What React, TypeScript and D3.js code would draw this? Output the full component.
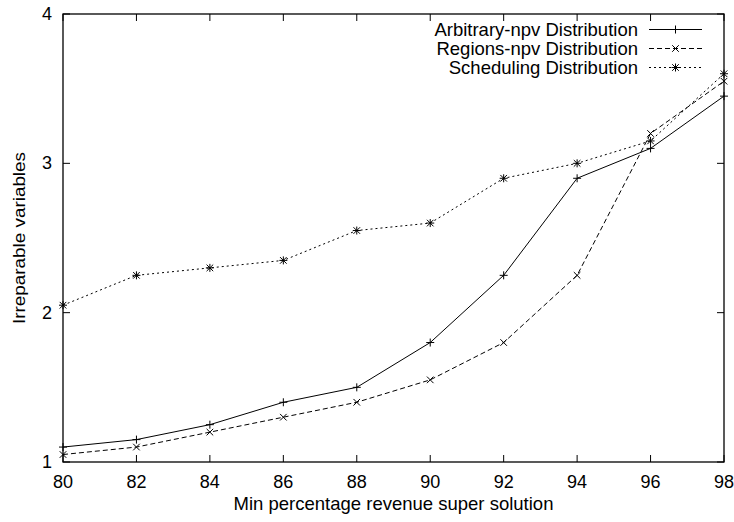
import React, { useEffect, useRef } from "react";
import * as d3 from "d3";

const xValues = [80, 82, 84, 86, 88, 90, 92, 94, 96, 98];
const arbitrary = [1.1, 1.15, 1.25, 1.4, 1.5, 1.8, 2.25, 2.9, 3.1, 3.45];
const regions = [1.05, 1.1, 1.2, 1.3, 1.4, 1.55, 1.8, 2.25, 3.2, 3.55];
const scheduling = [2.05, 2.25, 2.3, 2.35, 2.55, 2.6, 2.9, 3.0, 3.15, 3.6];
const seriesNames = [
  "Arbitrary-npv Distribution",
  "Regions-npv Distribution",
  "Scheduling Distribution",
];
const xTicks = [80, 82, 84, 86, 88, 90, 92, 94, 96, 98];
const yTicks = [1, 2, 3, 4];

const width = 734;
const height = 522;
const margin = { left: 63, right: 10, top: 14, bottom: 60 };

function marker(g: any, kind: string, x: number, y: number) {
  const s = 4;
  if (kind === "plus" || kind === "star") {
    g.append("line").attr("x1", x - s).attr("x2", x + s).attr("y1", y).attr("y2", y);
    g.append("line").attr("x1", x).attr("x2", x).attr("y1", y - s).attr("y2", y + s);
  }
  if (kind === "cross" || kind === "star") {
    const c = 3.3;
    g.append("line").attr("x1", x - c).attr("x2", x + c).attr("y1", y - c).attr("y2", y + c);
    g.append("line").attr("x1", x - c).attr("x2", x + c).attr("y1", y + c).attr("y2", y - c);
  }
}

export default function App() {
  const ref = useRef<SVGSVGElement>(null);

  useEffect(() => {
    const svg = d3.select(ref.current);
    svg.selectAll("*").remove();

    const x = d3
      .scaleLinear()
      .domain([80, 98])
      .range([margin.left, width - margin.right]);
    const y = d3
      .scaleLinear()
      .domain([1, 4])
      .range([height - margin.bottom, margin.top]);

    const font = "'Liberation Sans', Arial, sans-serif";
    const tickLen = 7;

    // gnuplot style: ticks on all four sides, pointing in
    const axes = svg.append("g").attr("stroke", "#000").attr("stroke-width", 1);
    xTicks.forEach(t => {
      axes.append("line").attr("x1", x(t)).attr("x2", x(t))
        .attr("y1", y(1)).attr("y2", y(1) - tickLen);
      axes.append("line").attr("x1", x(t)).attr("x2", x(t))
        .attr("y1", y(4)).attr("y2", y(4) + tickLen);
    });
    yTicks.forEach(t => {
      axes.append("line").attr("x1", x(80)).attr("x2", x(80) + tickLen)
        .attr("y1", y(t)).attr("y2", y(t));
      axes.append("line").attr("x1", x(98)).attr("x2", x(98) - tickLen)
        .attr("y1", y(t)).attr("y2", y(t));
    });
    svg.append("rect")
      .attr("x", x(80)).attr("y", y(4))
      .attr("width", x(98) - x(80)).attr("height", y(1) - y(4))
      .attr("fill", "none").attr("stroke", "#000").attr("stroke-width", 1.3);

    const labels = svg.append("g").attr("font-family", font).attr("font-size", 18).attr("fill", "#000");
    xTicks.forEach(t => {
      labels.append("text").attr("x", x(t)).attr("y", y(1) + 26)
        .attr("text-anchor", "middle").text(t);
    });
    yTicks.forEach(t => {
      labels.append("text").attr("x", x(80) - 11).attr("y", y(t) + 6)
        .attr("text-anchor", "end").text(t);
    });
    labels.append("text")
      .attr("x", (x(80) + x(98)) / 2).attr("y", 510)
      .attr("text-anchor", "middle").attr("font-size", 18.5)
      .text("Min percentage revenue super solution");
    labels.append("text")
      .attr("transform", `translate(25,${(y(1) + y(4)) / 2}) rotate(-90)`)
      .attr("text-anchor", "middle").attr("font-size", 16)
      .attr("textLength", 172).attr("lengthAdjust", "spacingAndGlyphs")
      .text("Irreparable variables");

    const series = [
      { name: seriesNames[0], values: arbitrary, dash: null, kind: "plus" },
      { name: seriesNames[1], values: regions, dash: "5,3", kind: "cross" },
      { name: seriesNames[2], values: scheduling, dash: "2,3", kind: "star" },
    ];

    const line = d3
      .line<number>()
      .x((d, i) => x(xValues[i]))
      .y(d => y(d));

    series.forEach((s, si) => {
      const g = svg.append("g").attr("stroke", "#000").attr("fill", "none").attr("stroke-width", 1);
      g.append("path").attr("d", line(s.values)).attr("stroke-dasharray", s.dash);
      const mg = svg.append("g").attr("stroke", "#000").attr("stroke-width", 1);
      s.values.forEach((v, i) => marker(mg, s.kind, x(xValues[i]), y(v)));

      const ly = 29.5 + si * 19;
      labels.append("text").attr("x", 638).attr("y", ly + 6.5)
        .attr("text-anchor", "end").attr("font-size", 18.5).text(s.name);
      g.append("line").attr("x1", 649).attr("x2", 702).attr("y1", ly).attr("y2", ly)
        .attr("stroke-dasharray", s.dash);
      marker(mg, s.kind, 675.5, ly);
    });
  }, []);

  return (
    <svg ref={ref} width={width} height={height} style={{ display: "block", position: "absolute", left: 0, top: 0, background: "#fff" }} />
  );
}
